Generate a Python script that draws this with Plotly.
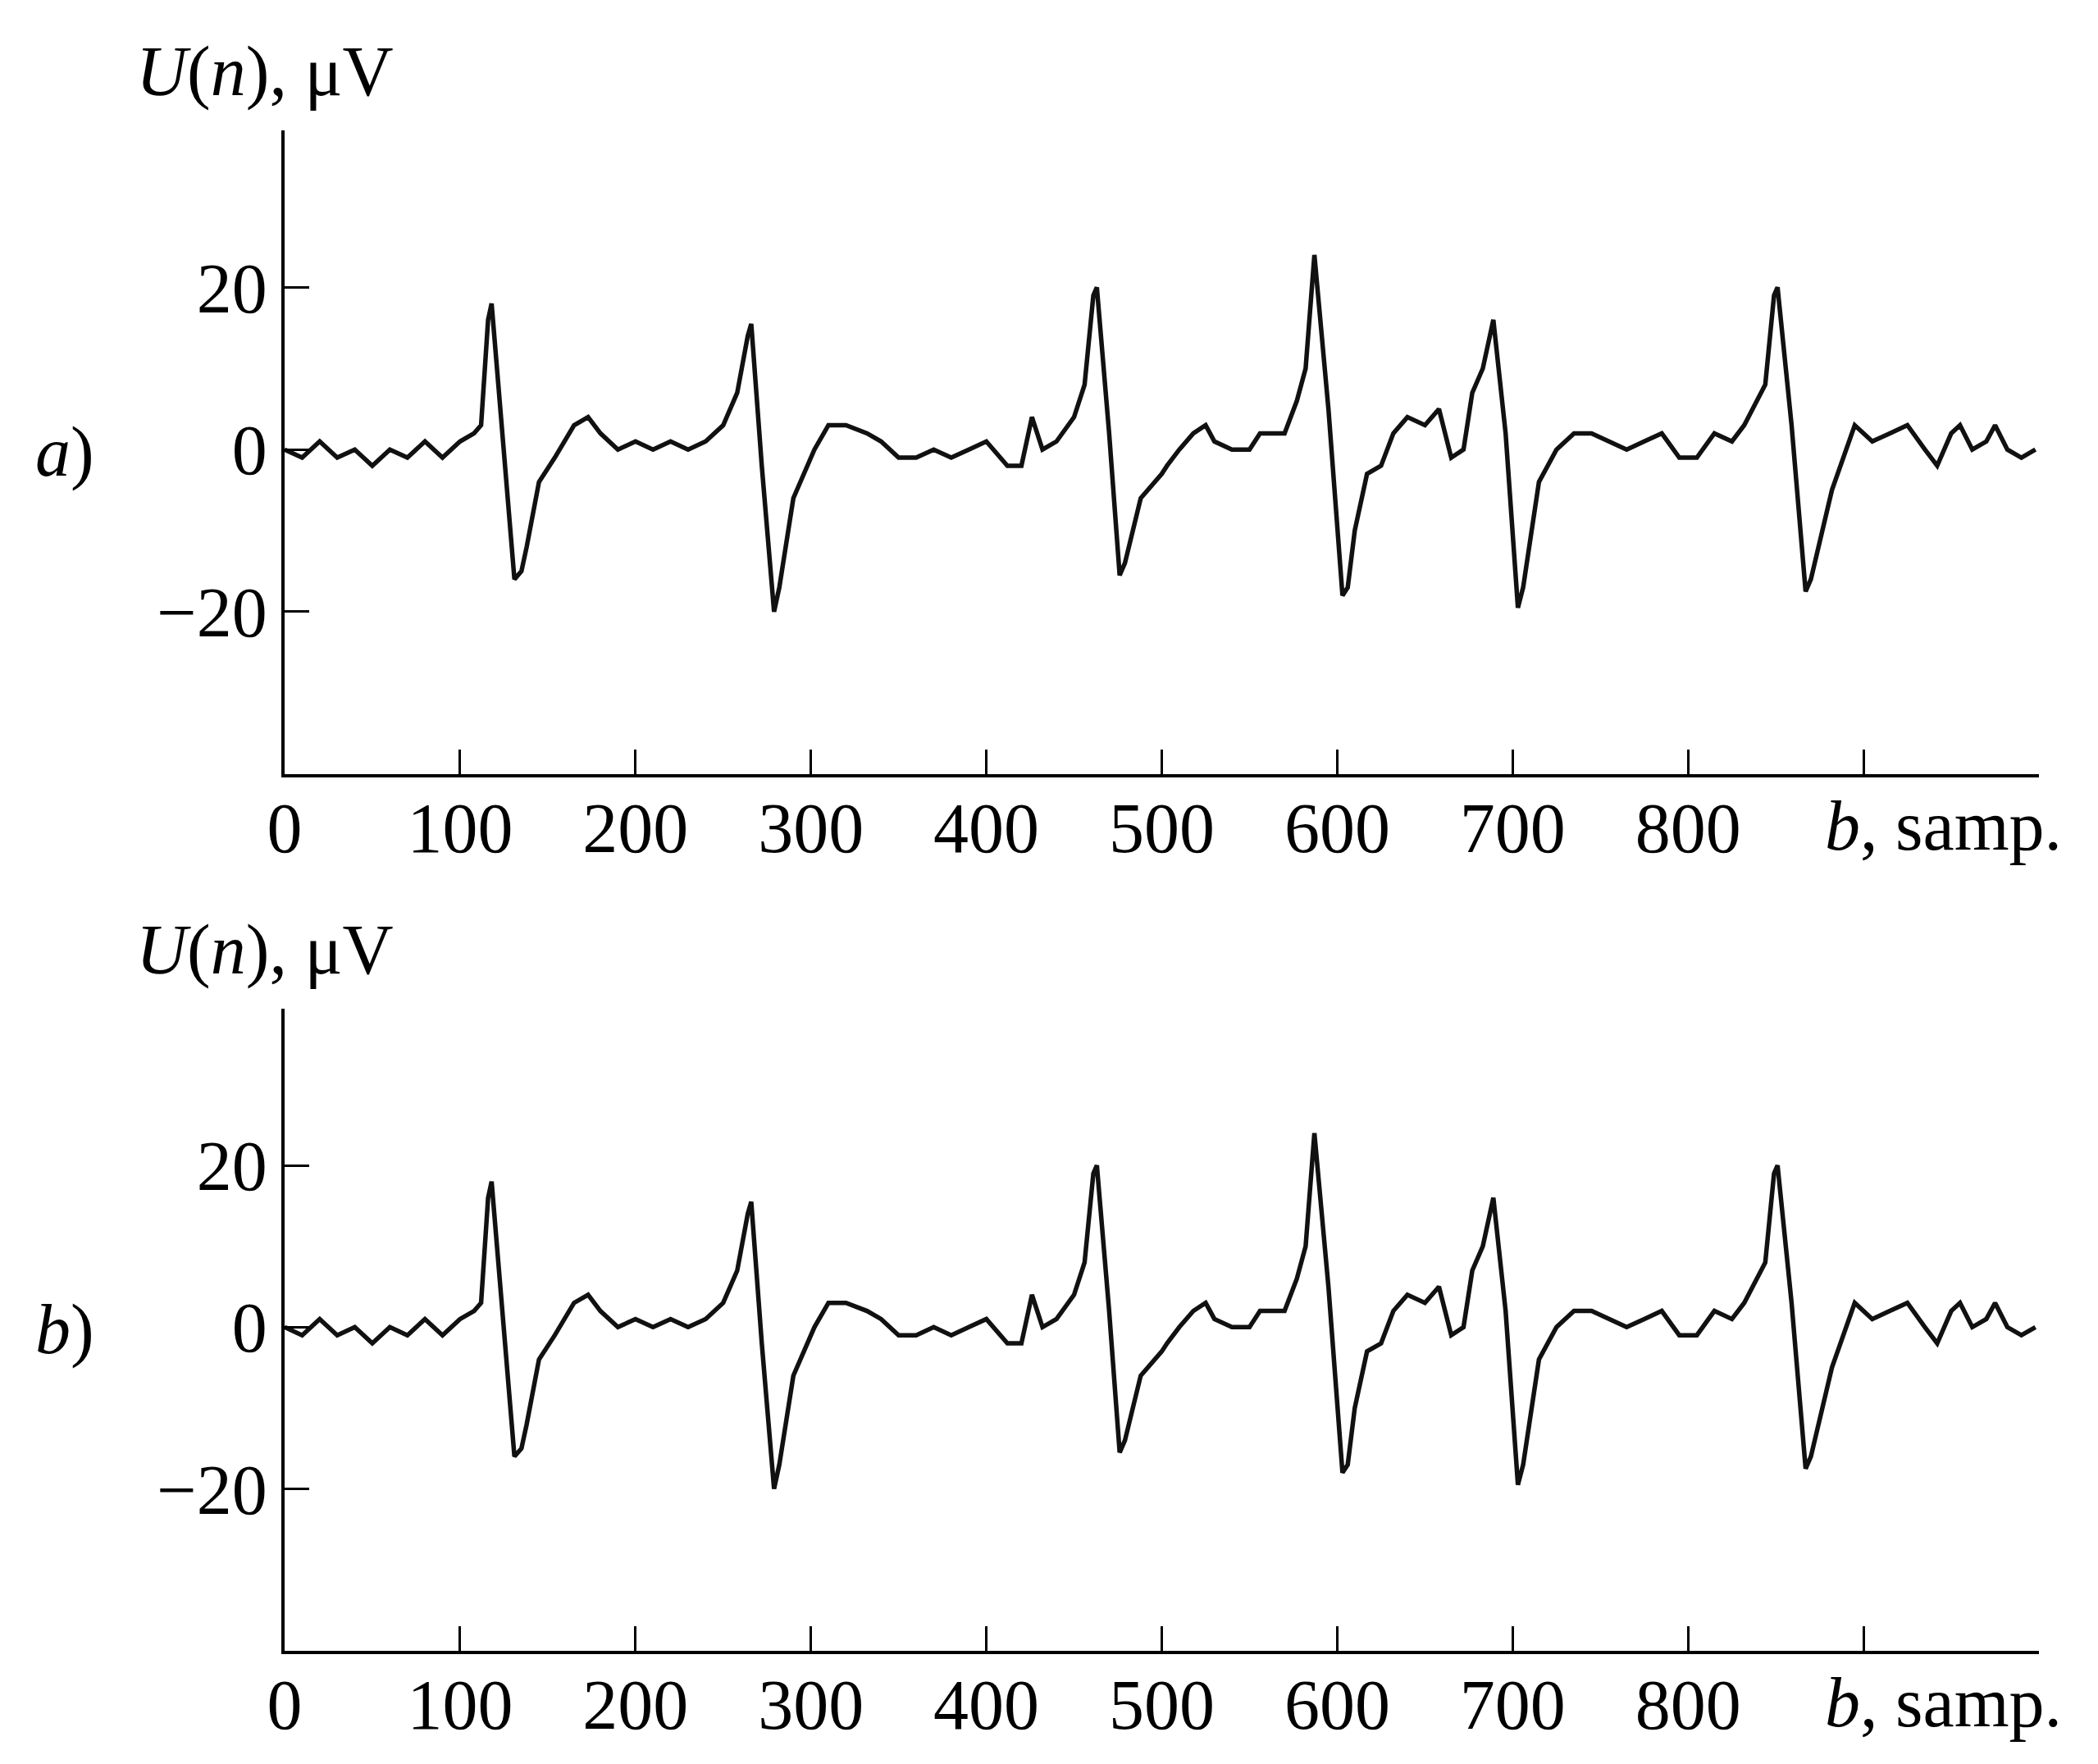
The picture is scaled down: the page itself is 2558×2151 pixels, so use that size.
import plotly.graph_objects as go
from plotly.subplots import make_subplots

# samples (b) and amplitude (uV); both panels share the same trace
samples = [0, 10, 20, 30, 40, 50, 60, 70, 80, 90, 100, 108, 112, 116, 118, 124, 131, 135, 138, 145, 154,
           165, 173, 180, 190, 200, 210, 220, 230, 240, 245, 250, 258, 264, 266, 272, 279, 282, 290, 302,
           310, 320, 332, 340, 350, 360, 370, 380, 390, 400, 412, 420, 426, 432, 440, 450, 456,
           461, 463, 470, 476, 479, 488, 500, 503, 510, 518, 525, 530, 540, 550, 556, 570, 577, 582, 586, 587,
           595, 603, 606, 610, 617, 625, 632, 640, 650, 658, 665, 672, 677, 683, 688, 689, 696, 703, 706, 715,
           725, 735, 745, 755, 765, 775, 785, 795, 805, 815, 825, 832, 844, 849, 851, 859, 867, 870, 882,
           895, 905, 915, 925, 935, 942, 950, 955, 962, 970, 975, 982, 990, 998]
u_a = [0, -1, 1, -1, 0, -2, 0, -1, 1, -1, 1, 2, 3, 16, 18, 2, -16, -15, -12, -4, -1,
       3, 4, 2, 0, 1, 0, 1, 0, 1, 2, 3, 7, 14, 15.5, -2, -20, -17, -6, 0,
       3, 3, 2, 1, -1, -1, 0, -1, 0, 1, -2, -2, 4, 0, 1, 4, 8,
       19, 20, 2, -15.5, -14, -6, -3, -2, 0, 2, 3, 1, 0, 0, 2, 2, 6, 10, 22, 24,
       5, -18, -17, -10, -3, -2, 2, 4, 3, 5, -1, 0, 7, 10, 15, 16, 2, -19.5, -17, -4,
       0, 2, 2, 1, 0, 1, 2, -1, -1, 2, 1, 3, 8, 19, 20, 3, -17.5, -16, -5,
       3, 1, 2, 3, 0, -2, 2, 3, 0, 1, 3, 0, -1, 0]
u_b = list(u_a)

x_ticks = [0, 100, 200, 300, 400, 500, 600, 700, 800, 900]
x_labels = ["0", "100", "200", "300", "400", "500", "600", "700", "800", ""]
y_ticks = [-20, 0, 20]
y_labels = ["\u221220", "0", "20"]

FONT = "Liberation Serif"
W, H = 2558, 2151
L, R = 339, 2478

fig = make_subplots(rows=2, cols=1)
for i, u in enumerate([u_a, u_b], start=1):
    fig.add_trace(go.Scatter(x=samples, y=u, mode="lines", line=dict(color="#111", width=5.5),
                             showlegend=False), row=i, col=1)

axis_common = dict(showline=True, linecolor="black", linewidth=4, ticks="inside",
                   ticklen=30, tickwidth=3, tickcolor="black", showgrid=False, zeroline=False,
                   tickfont=dict(family=FONT, size=86, color="black"))
dom = [[0.565, 0.930], [0.068, 0.432]]
for i in (1, 2):
    fig.update_xaxes(range=[0, 1000], tickvals=x_ticks, ticktext=x_labels, ticklabelstandoff=-12,
                     row=i, col=1, **axis_common)
    fig.update_yaxes(range=[-40, 39.4], tickvals=y_ticks, ticktext=y_labels, domain=dom[i - 1],
                     row=i, col=1, **axis_common)

def px(v):
    return (v / 1560 * W - L) / (R - L)

for (bottom, top), lab in zip(dom, ["a", "b"]):
    fig.add_annotation(text="<i>U</i>(<i>n</i>), \u03bcV", xref="paper", yref="paper",
                       x=px(95), y=top + 0.01, xanchor="left", yanchor="bottom",
                       showarrow=False, font=dict(family=FONT, size=86, color="black"))
    fig.add_annotation(text=f"<i>{lab}</i>)", xref="paper", yref="paper",
                       x=px(20), y=(top + bottom) / 2, xanchor="left", yanchor="middle",
                       showarrow=False, font=dict(family=FONT, size=86, color="black"))
    fig.add_annotation(text="<i>b</i>, samp.", xref="paper", yref="paper",
                       x=px(1440), y=bottom - 0.006, xanchor="center", yanchor="top",
                       showarrow=False, font=dict(family=FONT, size=86, color="black"))

fig.update_layout(width=W, height=H, margin=dict(l=L, r=W - R, t=0, b=0),
                  plot_bgcolor="white", paper_bgcolor="white")
fig.write_html("out.html")
